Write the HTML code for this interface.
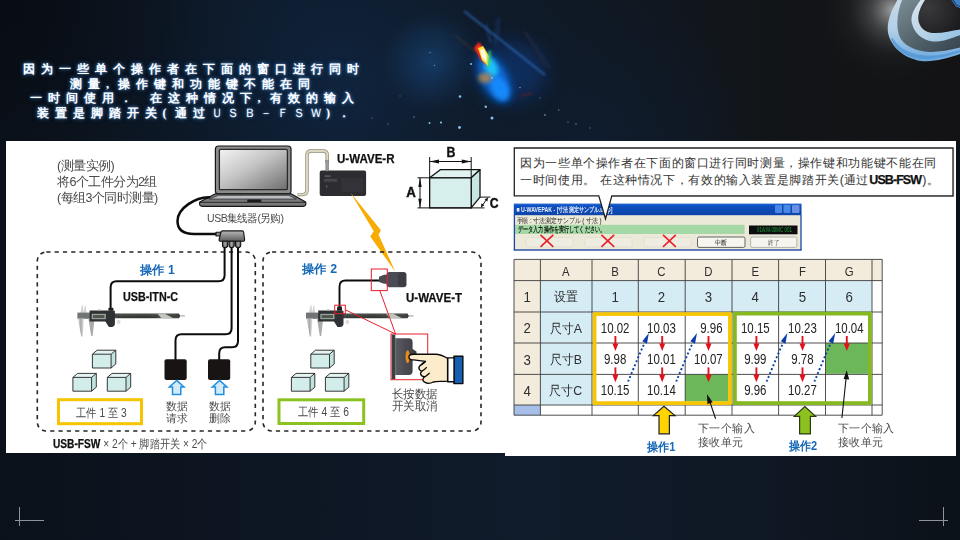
<!DOCTYPE html>
<html lang="zh">
<head>
<meta charset="utf-8">
<title>USB-FSW</title>
<style>
html,body{margin:0;padding:0;}
body{width:960px;height:540px;overflow:hidden;background:#0c141e;font-family:"Liberation Sans",sans-serif;}
#stage{position:relative;width:960px;height:540px;overflow:hidden;background:#0c141e;}
#stage svg{position:absolute;left:0;top:0;}
.t{position:absolute;white-space:nowrap;line-height:1;transform-origin:0 50%;font-size:12px;}
.title{font-family:"Liberation Serif",serif;font-weight:bold;color:#fff;font-size:12px;letter-spacing:6px;
 text-shadow:0 0 2px rgba(110,170,230,.8),0 0 4px rgba(70,140,215,.55),0 0 6px rgba(50,110,190,.3);}
.title .hw{display:inline-block;width:12px;text-align:left;letter-spacing:0;}
.title .fw{letter-spacing:4.500px;font-weight:normal;}
.g{color:#4a4a4a;}
.cc{text-align:center;transform-origin:50% 50%;color:#2e2e2e;}
.nm{transform:scaleX(.83);color:#222;}
.hd{transform:scaleX(.92);}
.k{color:#111;font-weight:bold;-webkit-text-stroke:.25px #111;}
.b{color:#1668b8;font-weight:bold;}
</style>
</head>
<body>
<div id="stage">
<svg width="960" height="540" viewBox="0 0 960 540">
<defs>
<linearGradient id="bgH" x1="0" x2="1" y1="0" y2="0">
 <stop offset="0" stop-color="#0b121b"/><stop offset=".3" stop-color="#0e1c2e"/><stop offset=".5" stop-color="#0f1b2b"/><stop offset=".63" stop-color="#101822"/><stop offset=".8" stop-color="#121518"/><stop offset="1" stop-color="#131315"/>
</linearGradient>
<radialGradient id="neb3" cx="590" cy="150" r="170" gradientUnits="userSpaceOnUse">
 <stop offset="0" stop-color="#0f1d30" stop-opacity=".9"/><stop offset=".6" stop-color="#0f1b2b" stop-opacity=".5"/><stop offset="1" stop-color="#0f1b2b" stop-opacity="0"/>
</radialGradient>
<filter id="b10" x="-80%" y="-80%" width="260%" height="260%"><feGaussianBlur stdDeviation="10"/></filter>
<linearGradient id="bgB" x1="0" x2="1" y1="0" y2="0">
 <stop offset="0" stop-color="#0a111a"/><stop offset=".55" stop-color="#101b2b"/><stop offset=".8" stop-color="#0f1824"/><stop offset="1" stop-color="#0b1118"/>
</linearGradient>
<radialGradient id="neb1" cx="345" cy="85" r="190" gradientUnits="userSpaceOnUse">
 <stop offset="0" stop-color="#14335a" stop-opacity=".36"/><stop offset=".5" stop-color="#102a48" stop-opacity=".18"/><stop offset="1" stop-color="#0e1d30" stop-opacity="0"/>
</radialGradient>
<radialGradient id="neb2" cx="432" cy="62" r="52" gradientUnits="userSpaceOnUse">
 <stop offset="0" stop-color="#1a4c85" stop-opacity=".6"/><stop offset=".6" stop-color="#153f70" stop-opacity=".3"/><stop offset="1" stop-color="#12304f" stop-opacity="0"/>
</radialGradient>
<radialGradient id="ringglow" cx="893" cy="10" r="75" gradientUnits="userSpaceOnUse">
 <stop offset="0" stop-color="#ffffff" stop-opacity=".6"/><stop offset=".3" stop-color="#aaa" stop-opacity=".3"/><stop offset=".6" stop-color="#666" stop-opacity=".1"/><stop offset="1" stop-color="#222" stop-opacity="0"/>
</radialGradient>
<radialGradient id="tl" cx="0" cy="0" r="200" gradientUnits="userSpaceOnUse">
 <stop offset="0" stop-color="#080c12" stop-opacity=".9"/><stop offset="1" stop-color="#080c12" stop-opacity="0"/>
</radialGradient>
<filter id="b1" x="-50%" y="-50%" width="200%" height="200%"><feGaussianBlur stdDeviation="1"/></filter>
<filter id="b2" x="-50%" y="-50%" width="200%" height="200%"><feGaussianBlur stdDeviation="2.2"/></filter>
<filter id="b4" x="-50%" y="-50%" width="200%" height="200%"><feGaussianBlur stdDeviation="4.5"/></filter>
<filter id="b05" x="-50%" y="-50%" width="200%" height="200%"><feGaussianBlur stdDeviation=".6"/></filter>
<linearGradient id="ringO" x1="0" x2="0" y1="0" y2="1"><stop offset="0" stop-color="#c9d9e6"/><stop offset=".5" stop-color="#b4d0e8"/><stop offset="1" stop-color="#6aa8de"/></linearGradient>
<linearGradient id="ringG" x1="0" x2="1" y1="0" y2="1"><stop offset="0" stop-color="#7d8f98"/><stop offset=".5" stop-color="#55656e"/><stop offset="1" stop-color="#34424c"/></linearGradient>
<linearGradient id="ringI" x1="0" x2="1" y1="0" y2="1"><stop offset="0" stop-color="#dde8f0"/><stop offset=".5" stop-color="#b9d4e8"/><stop offset="1" stop-color="#8fbfe4"/></linearGradient>
<radialGradient id="ringD" cx="520" cy="60" r="330" gradientUnits="userSpaceOnUse"><stop offset="0" stop-color="#3a3a3c"/><stop offset="1" stop-color="#161618"/></radialGradient>
</defs>
<rect width="960" height="145" fill="url(#bgH)"/>
<rect y="145" width="960" height="395" fill="url(#bgB)"/>
<rect width="960" height="145" fill="url(#neb1)"/>
<rect width="960" height="145" fill="url(#neb2)"/>
<rect width="960" height="145" fill="url(#neb3)"/>
<ellipse cx="512" cy="72" rx="34" ry="30" fill="#0a4aa8" opacity=".4" filter="url(#b10)"/>
<rect width="300" height="145" fill="url(#tl)"/>
<rect x="790" width="170" height="110" fill="url(#ringglow)"/>
<!-- flare -->
<g>
 <ellipse cx="494" cy="78" rx="13" ry="27" transform="rotate(-27 494 78)" fill="#0a63d0" filter="url(#b4)" opacity=".95"/>
 <ellipse cx="496" cy="80" rx="8" ry="19" transform="rotate(-27 496 80)" fill="#1278ee" filter="url(#b4)" opacity=".85"/>
 <ellipse cx="500" cy="89" rx="8" ry="12" transform="rotate(-27 500 89)" fill="#168cff" filter="url(#b2)" opacity=".9"/>
 <ellipse cx="491" cy="67" rx="6" ry="10" transform="rotate(-25 491 67)" fill="#1fc2f5" filter="url(#b2)"/>
 <ellipse cx="485" cy="78" rx="7" ry="5" fill="#c98a3a" filter="url(#b2)" opacity=".75"/>
 <path d="M474 48 L479 42 L486 52 L488 66 L481 60 Z" fill="#ff2a1a" filter="url(#b1)"/>
 <path d="M478 48 L483 46 L489 56 L488 66 L482 60 Z" fill="#ffe23a" filter="url(#b05)"/>
 <path d="M480 50 L483.500 49 L487 56 L486.500 62 L482 57 Z" fill="#fffbe0" filter="url(#b05)"/>
 <path d="M488 52 L491 50 L491 63 L487 68 Z" fill="#3adf6a" filter="url(#b1)" opacity=".7"/>
 <path d="M464 11 L545 75" stroke="#2d6dc0" stroke-width="2" filter="url(#b1)" opacity=".7"/>
 <path d="M486 24 L491 43" stroke="#2d5fb0" stroke-width="2.5" filter="url(#b1)" opacity=".35"/>
 <path d="M499 18 L495 46" stroke="#244f9a" stroke-width="3" filter="url(#b2)" opacity=".45"/>
 <path d="M526 32 L550 68" stroke="#233f7a" stroke-width="2" filter="url(#b1)" opacity=".4"/>
 <path d="M523 30 L547 68" stroke="#5a2a22" stroke-width="1.2" filter="url(#b1)" opacity=".5"/>
 <path d="M455 35 L475 52" stroke="#6a4a2a" stroke-width="1.5" filter="url(#b1)" opacity=".4"/>
 <path d="M521 96 L532 93" stroke="#8a1a1a" stroke-width="1.5" filter="url(#b1)" opacity=".6"/>
</g>
<!-- stars -->
<g fill="#7fc4f2" filter="url(#b05)">
 <circle cx="460" cy="96.500" r="1.3"/><circle cx="485.800" cy="106.800" r="1.2"/><circle cx="492" cy="118" r="1.5"/>
 <circle cx="459.500" cy="127.500" r="1.4"/><circle cx="441" cy="122.500" r="1.1"/><circle cx="429.500" cy="123" r="1"/>
 <circle cx="471" cy="64" r="1"/><circle cx="492" cy="78" r=".9"/><circle cx="520" cy="87.500" r=".8" opacity=".7"/>
 <circle cx="545" cy="115" r=".9" opacity=".6"/><circle cx="558.800" cy="110" r=".8" opacity=".6"/><circle cx="576" cy="124" r=".8" opacity=".6"/>
 <circle cx="430" cy="52.500" r=".7" opacity=".7"/><circle cx="434.500" cy="65.500" r=".7" opacity=".6"/><circle cx="414" cy="117" r=".8" opacity=".6"/>
 <circle cx="568" cy="122" r=".7" opacity=".5"/><circle cx="590" cy="128" r=".7" opacity=".5"/><circle cx="540" cy="98" r=".7" opacity=".5"/>
 <circle cx="372" cy="118" r=".7" opacity=".5"/><circle cx="388" cy="124" r=".7" opacity=".5"/><circle cx="400" cy="96" r=".7" opacity=".4"/>
</g>
<!-- ring -->
<g transform="translate(860,0) scale(0.1297)">
 <path d="M300,-20 C240,80 200,180 218,260 C240,360 340,450 470,470 C580,480 680,445 790,410 L790,-20 Z" fill="url(#ringO)"/>
 <path d="M240,300 C270,380 350,440 470,455 C580,465 680,430 790,398 L790,380 C690,410 590,440 470,425 C360,410 290,360 250,290 Z" fill="#4f94d6" opacity=".75"/>
 <path d="M332,-20 C290,80 275,180 300,270 C330,350 420,395 540,400 C630,400 700,385 790,362 L790,-20 Z" fill="url(#ringG)"/>
 <path d="M482,-20 C420,60 385,120 400,180 C420,260 480,310 560,320 C640,325 710,290 790,265 L790,-20 Z" fill="url(#ringI)"/>
 <path d="M515,-20 C470,40 440,110 452,165 C470,230 520,255 580,255 C650,255 720,235 790,225 L790,-20 Z" fill="url(#ringD)"/>
 <path d="M690,-20 L790,-20 L790,70 L740,50 Z" fill="#3f7fc4"/>
 <path d="M700,-20 L745,40 L790,58" fill="none" stroke="#1c3a5e" stroke-width="8"/>
</g>
<!-- corner marks -->
<g stroke="#8f949c" stroke-width="1" shape-rendering="crispEdges">
 <path d="M19.500 507 V526 M15 520.500 H44"/>
 <path d="M943.500 507 V526 M919 520.500 H948"/>
</g>
</svg>
<div class="t title" style="left:22.500px;top:63px;">因为一些单个操作者在下面的窗口进行同时</div>
<div class="t title" style="left:70px;top:77.500px;">测量<span class="hw">,</span>操作键和功能键不能在同</div>
<div class="t title" style="left:29.500px;top:92px;">一时间使用．<span class="hw"> </span>在这种情况下<span class="hw">,</span>有效的输入</div>
<div class="t title" style="left:36.500px;top:107px;">装置是脚踏开关<span class="hw">(</span>通过<span class="fw">ＵＳＢ－ＦＳＷ</span><span class="hw">)</span>．</div>
<div style="position:absolute;left:6px;top:140.700px;width:499px;height:312.400px;background:#fff;"></div>
<div style="position:absolute;left:504.800px;top:140.600px;width:451.300px;height:315.500px;background:#fff;"></div>
<svg width="960" height="540" viewBox="0 0 960 540">
<defs>
<linearGradient id="scr" x1="0" y1="0" x2="1" y2="1"><stop offset="0" stop-color="#f4f4f4"/><stop offset=".45" stop-color="#c4c4c4"/><stop offset="1" stop-color="#6e6e6e"/></linearGradient>
<linearGradient id="hubg" x1="0" y1="0" x2="0" y2="1"><stop offset="0" stop-color="#b8b8b8"/><stop offset="1" stop-color="#5c5c5c"/></linearGradient>
<linearGradient id="plug" x1="0" y1="0" x2="1" y2="0"><stop offset="0" stop-color="#555"/><stop offset=".5" stop-color="#a5a5a5"/><stop offset="1" stop-color="#555"/></linearGradient>
<linearGradient id="beam" x1="0" y1="0" x2="1" y2="0"><stop offset="0" stop-color="#4a4d4c"/><stop offset=".6" stop-color="#3d403d"/><stop offset=".8" stop-color="#4a4d48"/><stop offset="1" stop-color="#3c3f3c"/></linearGradient>
<linearGradient id="jaw" x1="0" y1="0" x2="1" y2="0"><stop offset="0" stop-color="#dcdcdc"/><stop offset=".5" stop-color="#a8aaa8"/><stop offset="1" stop-color="#e6e6e6"/></linearGradient>
<linearGradient id="btn" x1="0" y1="0" x2="1" y2="0"><stop offset="0" stop-color="#5a5c62"/><stop offset=".5" stop-color="#4a4b52"/><stop offset="1" stop-color="#3c3c40"/></linearGradient>
<filter id="lb" x="-20%" y="-20%" width="140%" height="140%"><feGaussianBlur stdDeviation=".45"/></filter>
<filter id="lb2" x="-30%" y="-30%" width="160%" height="160%"><feGaussianBlur stdDeviation="1"/></filter>
<g id="cube">
 <path d="M0 4 L18.700 4 L18.700 17.800 L0 17.800 Z" fill="#d3edeb"/>
 <path d="M0 4 L4.700 0 L23.400 0 L18.700 4 Z" fill="#e3f4f2"/>
 <path d="M18.700 4 L23.400 0 L23.400 13.800 L18.700 17.800 Z" fill="#c2e3e0"/>
 <path d="M0 4 L18.700 4 L18.700 17.800 L0 17.800 Z M0 4 L4.700 0 L23.400 0 L18.700 4 M23.400 0 L23.400 13.800 L18.700 17.800" fill="none" stroke="#222" stroke-width=".9" stroke-linejoin="round"/>
</g>
<g id="caliper">
 <path d="M2.800 0.500 L4.600 -7.500 L5.400 -7.500 L6.400 0.500 Z M6 0.500 L7.600 -7 L8.300 -7 L9.200 0.500 Z" fill="#d4d6d4"/>
 <path d="M0 0 L14 0 L14 6.200 L0 6.200 Z" fill="#717574"/>
 <path d="M14 0.800 L101.500 0.800 L103 3.300 L101.500 5.600 L14 5.600 Z" fill="url(#beam)"/>
 <path d="M80 0.800 L87 0.800 L96 5.600 L84 5.600 Z" fill="#c2c5bd"/>
 <rect x="103" y="2.800" width="4.500" height="1" fill="#999"/>
 <path d="M40 1.600 H100" stroke="#9a9d98" stroke-width=".7" stroke-dasharray=".8 1.700" opacity=".7"/>
 <path d="M40 4.600 H80" stroke="#22241f" stroke-width="1" opacity=".6"/>
 <path d="M0.500 6 L6.500 6 L5.200 23.800 L3.800 23.800 Z" fill="url(#jaw)"/>
 <path d="M11 6 L17.200 6 L15.200 23.500 L13.800 23.500 Z" fill="#a9acaa"/>
 <path d="M12.200 -2 L36.500 -2 Q37.500 -2 37.500 -1 L37.500 11 Q37.500 14.400 34 14.400 L31.500 14.400 L28 9 L12.200 9 Z" fill="#2e3035"/>
 <rect x="14.300" y="1.200" width="14.200" height="5.400" fill="#9aa09a"/>
 <rect x="15.600" y="2.500" width="11.400" height="2.900" fill="#4e554f"/>
 <rect x="31" y="-4.800" width="5" height="3" rx=".8" fill="#1b1b1b"/>
 <circle cx="41.300" cy="9.300" r="1.900" fill="#e2d9dc"/>
 <circle cx="22" cy="-2.600" r="1.100" fill="#b9b9b9"/>
</g>
</defs>

<!-- U-WAVE-R -->
<rect x="319.700" y="170.400" width="46.400" height="25.700" rx="2" fill="#2c2c31"/>
<rect x="324" y="178.800" width="13" height="3" fill="#45454c"/>
<rect x="324.500" y="175.500" width="6" height="1.200" fill="#6a6a72"/>
<rect x="341" y="178" width="22" height="14" fill="#323238"/>
<rect x="326" y="185" width="1.400" height="3" fill="#50505a"/>

<!-- lightning bolt -->
<path d="M350.400 192.600 L380.900 230.300 L378.500 234.600 L395.200 271.600 L370.300 236.600 L373.800 231.300 Z" fill="#f8ab00"/>

<!-- dashed group boxes -->
<g fill="none" stroke="#262626" stroke-width="1.600" stroke-dasharray="4.200 4.100">
 <rect x="37.300" y="252" width="218" height="179" rx="9"/>
 <rect x="263" y="252" width="218" height="179" rx="9"/>
</g>


<!-- A/B/C box -->
<g stroke="#111" stroke-width="1.300" stroke-linejoin="round" fill="none">
 <path d="M429.650 177.800 L440.300 169.650 L480 169.650 L471.200 177.800 Z" fill="#dff2f0"/>
 <path d="M471.200 177.800 L480 169.650 L480 197.100 L471.200 207.900 Z" fill="#c7e6e3"/>
 <rect x="429.650" y="177.800" width="41.550" height="30.100" fill="#d6eeec"/>
</g>
<g stroke="#111" stroke-width="1" fill="none">
 <path d="M429.650 157 V177.800 M471.200 157 V177.800 M429.650 161.500 H471.200"/>
 <path d="M417.500 177.800 H429.650 M417.500 207.900 H484.500 M420 177.800 V207.900"/>
 <path d="M480 197.100 H490.400 M481.600 206.400 L487.300 198.500"/>
</g>
<g fill="#111" stroke="none">
 <path d="M429.650 161.500 L439 159.600 L439 163.400 Z M471.200 161.500 L461.800 159.600 L461.800 163.400 Z"/>
 <path d="M420 177.800 L418.300 187 L421.700 187 Z M420 207.900 L418.300 198.700 L421.700 198.700 Z"/>
 <path d="M480.800 207.500 L481.500 203.300 L484.300 205.300 Z M488 197.500 L487.400 201.600 L484.600 199.600 Z"/>
</g>

<!-- laptop -->
<g stroke="#151515" stroke-width="1.200" stroke-linejoin="round">
 <rect x="215.400" y="146" width="75.600" height="48" rx="3.200" fill="#8c8c8c"/>
 <rect x="219.400" y="149.400" width="68" height="40.200" rx="1.200" fill="url(#scr)" stroke="#2a2a2a" stroke-width="1.300"/>
 <path d="M215.400 193.800 L291 193.800 L305.600 202 Q306.600 206.400 303 206.400 L202.400 206.400 Q198.800 206.400 199.800 202 Z" fill="#7a7a7a"/>
 <path d="M218.500 195.300 L288.500 195.300 L296.300 199 L209.500 199 Z" fill="#b9bcc0" stroke-width=".6"/>
 <path d="M200 202.300 L305.500 202.300" stroke-width=".8"/>
 <rect x="247.300" y="199.600" width="14" height="2.400" rx=".6" fill="#1a1a1a" stroke="none"/>
</g>

<!-- beige cable laptop → U-WAVE-R -->
<path d="M297.500 194.600 L303 194.600 Q307 194.600 307 190.600 L307 155 Q307 151 311 151 L323.200 151 Q327.200 151 327.200 155 L327.200 163" fill="none" stroke="#8e8974" stroke-width="3.400"/>
<path d="M297.500 194.600 L303 194.600 Q307 194.600 307 190.600 L307 155 Q307 151 311 151 L323.200 151 Q327.200 151 327.200 155 L327.200 163" fill="none" stroke="#dcd7c2" stroke-width="2"/>
<rect x="325.800" y="160.500" width="2.900" height="10.500" fill="#9a9a9a" stroke="#666" stroke-width=".4"/>

<!-- black cable laptop → hub -->
<path d="M209 197.200 C196 197 177.500 208 177.500 221 C177.500 230 184 234 194 234 L217 234" fill="none" stroke="#0c0c0c" stroke-width="2.500" stroke-linecap="round"/>
<!-- hub -->
<g stroke="#141414" stroke-width="1.100" stroke-linejoin="round">
 <rect x="216" y="232.200" width="5" height="3.800" fill="#8a8a8a"/>
 <path d="M222.400 230.900 L242.200 230.900 Q243.400 230.900 243.600 232 L244.600 239.500 Q244.700 241.200 243 241.200 L220.600 241.200 Q218.900 241.200 219.100 239.500 L221 232 Q221.300 230.900 222.400 230.900 Z" fill="url(#hubg)"/>
 <path d="M222.500 241.200 L227.700 241.200 L227.700 245 Q227.700 247.600 225.100 247.600 Q222.500 247.600 222.500 245 Z" fill="url(#plug)"/>
 <path d="M229 241.200 L234.200 241.200 L234.200 245 Q234.200 247.600 231.600 247.600 Q229 247.600 229 245 Z" fill="url(#plug)"/>
 <path d="M235.500 241.200 L240.700 241.200 L240.700 245 Q240.700 247.600 238.100 247.600 Q235.500 247.600 235.500 245 Z" fill="url(#plug)"/>
</g>
<!-- hub cables -->
<g fill="none" stroke="#0c0c0c" stroke-width="2">
 <path d="M224.600 247.500 L224.600 275.300 Q224.600 281.300 218.600 281.300 L116.600 281.300 Q110.600 281.300 110.600 287.300 L110.600 308"/>
 <path d="M231.600 247.500 L231.600 328.200 Q231.600 334.200 225.600 334.200 L181.500 334.200 Q175.500 334.200 175.500 340.200 L175.500 360"/>
 <path d="M238 247.500 L238 341.200 Q238 347.200 232 347.200 L225.200 347.200 Q219.200 347.200 219.200 353.200 L219.200 360"/>
</g>

<!-- calipers -->
<g filter="url(#lb)"><use href="#caliper" x="77.400" y="312.600"/></g>
<g filter="url(#lb)"><use href="#caliper" x="306" y="312.600"/></g>

<!-- work pieces -->
<use href="#cube" x="92.400" y="350.200"/>
<use href="#cube" x="72.900" y="373.400"/>
<use href="#cube" x="107.300" y="373.400"/>
<use href="#cube" x="310.800" y="350.200"/>
<use href="#cube" x="291.400" y="373.400"/>
<use href="#cube" x="325.400" y="373.400"/>

<!-- yellow / green label frames -->
<rect x="58.500" y="399.700" width="83" height="24" fill="#fff" stroke="#f6c500" stroke-width="3"/>
<rect x="279" y="399.800" width="84.700" height="23.700" fill="#fff" stroke="#8bc21f" stroke-width="3"/>

<!-- foot switches -->
<rect x="164.500" y="359.300" width="22.200" height="20.700" rx="2" fill="#181414"/>
<rect x="208" y="359.300" width="22.200" height="20.700" rx="2" fill="#181414"/>
<g fill="#d3ebf7" stroke="#1f8fe0" stroke-width="1.500" stroke-linejoin="miter">
 <path d="M176.7 380.400 L184.0 387 L180.8 387 L180.8 394.500 L172.5 394.500 L172.5 387 L169.3 387 Z"/>
 <path d="M219.6 380.400 L226.9 387 L223.8 387 L223.8 394.500 L215.4 394.500 L215.4 387 L212.3 387 Z"/>
</g>

<!-- U-WAVE-T -->
<path d="M339.500 307 L339.500 286.500 Q339.500 280.500 345.500 280.500 L380 280.500" fill="none" stroke="#0c0c0c" stroke-width="1.900"/>
<g filter="url(#lb)">
 <path d="M379 276.800 L384 274.800 L387 274.800 L387 283.800 L384 283.800 L379 282 Z" fill="#4a4b52"/>
 <rect x="386.500" y="272" width="20" height="15.200" rx="3" fill="#4b4c54"/>
 <rect x="398" y="272.500" width="8" height="14.200" rx="2.500" fill="#3d3e45"/>
 <rect x="337.300" y="306.500" width="4.600" height="3.200" fill="#1b1b1b"/>
</g>
<!-- red call-outs -->
<g fill="none" stroke="#e8202a" stroke-width="1">
 <rect x="371.300" y="269" width="16" height="21.600"/>
 <rect x="334.700" y="305.200" width="10.600" height="8.500"/>
 <path d="M379.800 290.600 L395.600 334 M345.300 309.800 L395.600 334"/>
 <rect x="391" y="334" width="36.700" height="45.700"/>
</g>
<!-- push button unit -->
<g filter="url(#lb)">
 <rect x="391.700" y="334.700" width="3.600" height="44.400" fill="#3a3f40"/>
 <path d="M395.200 338.300 L408.600 338.300 Q412.600 338.300 412.600 342.300 L412.600 349 L416.500 351.500 L416.500 356 L412.600 358 L412.600 371.100 Q412.600 375.100 408.600 375.100 L395.200 375.100 Z" fill="url(#btn)"/>
 <ellipse cx="407.600" cy="356.700" rx="2.100" ry="6.500" fill="#e88b1e"/>
</g>
<!-- hand -->
<g transform="translate(385,328) scale(0.11486)" stroke="#0a0a0a" stroke-width="12" stroke-linejoin="round" stroke-linecap="round">
 <rect x="600" y="246" width="78" height="238" fill="#1560b4"/>
 <rect x="545" y="260" width="56" height="208" fill="#fff"/>
 <path d="M208 252 C208 236 225 228 250 229 L440 229 C490 229 520 250 545 265 L545 462 C500 468 450 462 420 470 C400 482 370 486 345 472 C325 460 325 440 345 425 C310 420 300 395 318 378 C290 365 285 335 318 318 C330 305 345 295 350 290 L250 278 C225 278 208 270 208 252 Z" fill="#fdeccb"/>
 <path d="M345 425 C360 418 372 406 385 394 M318 378 C335 370 348 358 360 345 M318 318 C332 312 344 302 352 292" fill="none"/>
</g>
</svg>
<svg width="960" height="540" viewBox="0 0 960 540">
<defs>
<linearGradient id="tb" x1="0" y1="0" x2="0" y2="1"><stop offset="0" stop-color="#2a6ad8"/><stop offset=".2" stop-color="#0c50c0"/><stop offset="1" stop-color="#0a44a8"/></linearGradient>
<filter id="rb" x="-5%" y="-20%" width="110%" height="140%"><feGaussianBlur stdDeviation=".5"/></filter>
</defs>
<!-- window -->
<g filter="url(#rb)">
<rect x="513.800" y="203.600" width="287.700" height="46.900" fill="#ece9d8"/>
<rect x="513.800" y="203.600" width="287.700" height="11.600" fill="url(#tb)"/>
<rect x="514.600" y="224.800" width="230" height="9.200" fill="#a6d7a6"/>
<rect x="749" y="225.500" width="48.500" height="8.800" fill="#0a0f0a"/>
<rect x="697.500" y="237" width="47.500" height="10.400" rx="1.500" fill="#f6f5ee" stroke="#555" stroke-width=".9"/>
<rect x="750.600" y="237" width="46.300" height="10.400" rx="1.500" fill="#f6f5ee" stroke="#999" stroke-width=".7"/>
<rect x="526" y="237.500" width="47" height="9.500" rx="1.500" fill="#efede2" stroke="#dcd9c8" stroke-width=".6"/>
<rect x="585" y="237.500" width="47" height="9.500" rx="1.500" fill="#efede2" stroke="#dcd9c8" stroke-width=".6"/>
<rect x="644" y="237.500" width="47" height="9.500" rx="1.500" fill="#efede2" stroke="#dcd9c8" stroke-width=".6"/>
<path d="M513.800 250 H801.500" stroke="#2f55b0" stroke-width="1.400"/>
<path d="M514.400 215 V250.300 M801 215 V250.300" stroke="#1f4aa8" stroke-width="1.300"/>
<rect x="775" y="205" width="7" height="8" rx="1" fill="#4a86e8"/><rect x="783.500" y="205" width="7" height="8" rx="1" fill="#4a86e8"/><rect x="792" y="205" width="7.500" height="8" rx="1" fill="#6a8fe0"/>
<g font-family="'Liberation Sans',sans-serif" filter="url(#rb)">
<text x="516.500" y="212.300" font-size="7.200" fill="#e8eefc" font-weight="bold" textLength="96" lengthAdjust="spacingAndGlyphs">■ U-WAVEPAK - [寸法測定サンプル.uwp]</text>
<text x="516.500" y="222.700" font-size="7.400" fill="#222" textLength="85" lengthAdjust="spacingAndGlyphs">手順 : 寸法測定サンプル ( 寸法 )</text>
<text x="518" y="232.200" font-size="7.600" fill="#0f1f0f" font-weight="bold" textLength="87" lengthAdjust="spacingAndGlyphs">データ入力操作を実行してください。</text>
<text x="757" y="232.300" font-size="6.800" fill="#22a040" textLength="35" lengthAdjust="spacingAndGlyphs">01A:M-00MC 001</text>
<text x="715" y="245" font-size="7" fill="#222" textLength="12" lengthAdjust="spacingAndGlyphs">中断</text>
<text x="768" y="245" font-size="7" fill="#555" textLength="11" lengthAdjust="spacingAndGlyphs">終了</text>
</g>
</g>
<!-- callout -->
<path d="M514.300 148 H953 V195.800 H611.800 L605.500 218.800 L598.800 195.800 H514.300 Z" fill="#fff" stroke="#222" stroke-width="1.300" stroke-linejoin="miter"/>
<path d="M953.600 149 V196.500 H612" fill="none" stroke="#555" stroke-width="1" opacity=".7"/>
<path d="M540.5 234.800 L553.3 246.800 M553.3 234.800 L540.5 246.800" stroke="#e8202a" stroke-width="1.600" fill="none"/>
<path d="M601.4 234.800 L614.2 246.800 M614.2 234.800 L601.4 246.800" stroke="#e8202a" stroke-width="1.600" fill="none"/>
<path d="M663.0 234.800 L675.8 246.800 M675.8 234.800 L663.0 246.800" stroke="#e8202a" stroke-width="1.600" fill="none"/>
<!-- sheet -->
<rect x="514.00" y="259.40" width="368.20" height="21.20" fill="#f3ecdd"/>
<rect x="514.00" y="280.60" width="26.40" height="124.40" fill="#f3ecdd"/>
<rect x="514.00" y="405.00" width="26.40" height="10.20" fill="#a7bfe8"/>
<rect x="540.40" y="280.60" width="51.60" height="124.40" fill="#d6ecf5"/>
<rect x="592.00" y="280.60" width="280.00" height="31.40" fill="#d6ecf5"/>
<rect x="685.20" y="374.40" width="43.30" height="27.10" fill="#6bb75a"/>
<rect x="825.50" y="343.00" width="43.00" height="30.80" fill="#6bb75a"/>
<path d="M514.00 259.40 V415.20 M540.40 259.40 V415.20 M592.00 259.40 V415.20 M638.30 259.40 V415.20 M685.20 259.40 V415.20 M732.00 259.40 V415.20 M778.60 259.40 V415.20 M825.50 259.40 V415.20 M872.00 259.40 V415.20 M882.20 259.40 V415.20 M514.00 259.40 H882.20 M514.00 280.60 H882.20 M514.00 312.00 H882.20 M514.00 343.00 H882.20 M514.00 374.40 H882.20 M514.00 405.00 H882.20 M514.00 415.20 H882.20 " stroke="#3c3c3c" stroke-width=".9" fill="none"/>
<rect x="594.600" y="314.100" width="135.300" height="89" fill="none" stroke="#f7c600" stroke-width="3.700"/>
<rect x="734.900" y="313.600" width="135" height="89.500" fill="none" stroke="#86b920" stroke-width="3.800"/>
<path d="M615.4 336.0 V346.0" stroke="#e3101c" stroke-width="1.900"/><path d="M615.4 351.0 L612.4 343.4 L618.4 343.4 Z" fill="#e3101c"/>
<path d="M615.4 367.4 V377.3" stroke="#e3101c" stroke-width="1.900"/><path d="M615.4 382.3 L612.4 374.7 L618.4 374.7 Z" fill="#e3101c"/>
<path d="M662.2 336.0 V346.0" stroke="#e3101c" stroke-width="1.900"/><path d="M662.2 351.0 L659.2 343.4 L665.2 343.4 Z" fill="#e3101c"/>
<path d="M662.2 367.4 V377.3" stroke="#e3101c" stroke-width="1.900"/><path d="M662.2 382.3 L659.2 374.7 L665.2 374.7 Z" fill="#e3101c"/>
<path d="M708.5 336.0 V346.0" stroke="#e3101c" stroke-width="1.900"/><path d="M708.5 351.0 L705.5 343.4 L711.5 343.4 Z" fill="#e3101c"/>
<path d="M708.5 367.4 V377.3" stroke="#e3101c" stroke-width="1.900"/><path d="M708.5 382.3 L705.5 374.7 L711.5 374.7 Z" fill="#e3101c"/>
<path d="M756.4 336.0 V346.0" stroke="#e3101c" stroke-width="1.900"/><path d="M756.4 351.0 L753.4 343.4 L759.4 343.4 Z" fill="#e3101c"/>
<path d="M756.4 367.4 V377.3" stroke="#e3101c" stroke-width="1.900"/><path d="M756.4 382.3 L753.4 374.7 L759.4 374.7 Z" fill="#e3101c"/>
<path d="M802.5 336.0 V346.0" stroke="#e3101c" stroke-width="1.900"/><path d="M802.5 351.0 L799.5 343.4 L805.5 343.4 Z" fill="#e3101c"/>
<path d="M802.5 367.4 V377.3" stroke="#e3101c" stroke-width="1.900"/><path d="M802.5 382.3 L799.5 374.7 L805.5 374.7 Z" fill="#e3101c"/>
<path d="M846.8 336.0 V346.0" stroke="#e3101c" stroke-width="1.900"/><path d="M846.8 351.0 L843.8 343.4 L849.8 343.4 Z" fill="#e3101c"/>
<path d="M628.1 381.500 C633.4 369 639.4 354 644.6 343" fill="none" stroke="#0b3ea8" stroke-width="1.900" stroke-dasharray="1.900 2.300"/>
<path d="M648.9 333.100 L646.9 343.700 L642.3 341.300 Z" fill="#0b3ea8"/>
<path d="M676.2 381.500 C681.5 369 687.5 354 692.7 343" fill="none" stroke="#0b3ea8" stroke-width="1.900" stroke-dasharray="1.900 2.300"/>
<path d="M697.0 333.100 L695.0 343.700 L690.4 341.300 Z" fill="#0b3ea8"/>
<path d="M766.6 381.500 C771.9 369 777.9 354 783.1 343" fill="none" stroke="#0b3ea8" stroke-width="1.900" stroke-dasharray="1.900 2.300"/>
<path d="M787.4 333.100 L785.4 343.700 L780.8 341.300 Z" fill="#0b3ea8"/>
<path d="M814.4 381.500 C819.7 369 825.7 354 830.9 343" fill="none" stroke="#0b3ea8" stroke-width="1.900" stroke-dasharray="1.900 2.300"/>
<path d="M835.2 333.100 L833.2 343.700 L828.6 341.300 Z" fill="#0b3ea8"/>
<path d="M715.600 418.700 L709.600 401" stroke="#111" stroke-width="1.100"/><path d="M707 394.300 L712.700 402.300 L707.400 403.900 Z" fill="#111"/>
<path d="M841.900 418 L846.100 378" stroke="#111" stroke-width="1.100"/><path d="M846.700 370.200 L849.200 379.500 L843.600 378.900 Z" fill="#111"/>
<path d="M663.900 406.200 L675 415.600 L669.400 415.600 L669.400 433.800 L659 433.800 L659 415.600 L653.400 415.600 Z" fill="#ffd400" stroke="#222" stroke-width="1.200" stroke-linejoin="miter"/>
<path d="M804.800 406.500 L815.600 416.400 L810.400 416.400 L810.400 433.900 L799.600 433.900 L799.600 416.400 L794.300 416.400 Z" fill="#8cc21f" stroke="#2c3a10" stroke-width="1.200" stroke-linejoin="miter"/>
</svg>
<!-- left panel labels -->
<div class="t g" id="l1" style="left:56.500px;top:159.500px;font-size:12.500px;letter-spacing:-.6px;transform:scaleX(1.006);">(测量实例)</div>
<div class="t g" id="l2" style="left:56.500px;top:176px;font-size:12.500px;letter-spacing:-.6px;transform:scaleX(1.004);">将6个工件分为2组</div>
<div class="t g" id="l3" style="left:56.500px;top:192px;font-size:12.500px;letter-spacing:-.6px;transform:scaleX(1.003);">(每组3个同时测量)</div>
<div class="t g" id="hubl" style="left:207px;top:212.500px;font-size:11px;letter-spacing:-.5px;transform:scaleX(0.958);">USB集线器(另购)</div>
<div class="t k" id="uwr" style="left:337px;top:151.500px;font-size:13px;transform:scaleX(0.889);">U-WAVE-R</div>
<div class="t k" id="la" style="-webkit-text-stroke:.4px #111;left:406.3px;top:184.9px;font-size:14px;width:10.11px;text-align:center;transform-origin:50% 50%;transform:scaleX(0.95);">A</div>
<div class="t k" id="lb_" style="-webkit-text-stroke:.4px #111;left:446.0px;top:144.7px;font-size:14px;width:10.11px;text-align:center;transform-origin:50% 50%;transform:scaleX(0.88);">B</div>
<div class="t k" id="lc" style="-webkit-text-stroke:.4px #111;left:489.4px;top:196.0px;font-size:14.5px;width:10.47px;text-align:center;transform-origin:50% 50%;transform:scaleX(0.84);">C</div>
<div class="t b" id="op1" style="left:140.300px;top:263.500px;font-size:12px;transform:scaleX(1.02);">操作 1</div>
<div class="t b" id="op2" style="left:302.300px;top:263.300px;font-size:12px;transform:scaleX(1.029);">操作 2</div>
<div class="t k" id="itn" style="left:123px;top:289.500px;font-size:13px;transform:scaleX(0.829);">USB-ITN-C</div>
<div class="t k" id="uwt" style="left:405.600px;top:290.500px;font-size:13px;transform:scaleX(0.885);">U-WAVE-T</div>
<div class="t g" id="w13" style="left:76px;top:406.500px;font-size:12px;transform:scaleX(0.856);">工件 1 至 3</div>
<div class="t g" id="w46" style="left:297.500px;top:406.300px;font-size:12px;transform:scaleX(0.859);">工件 4 至 6</div>
<div class="t g" id="d1a" style="left:166px;top:400.500px;font-size:11px;transform:scaleX(0.995);">数据</div>
<div class="t g" id="d1b" style="left:166px;top:413px;font-size:11px;transform:scaleX(0.995);">请求</div>
<div class="t g" id="d2a" style="left:209.200px;top:400.500px;font-size:11px;transform:scaleX(0.982);">数据</div>
<div class="t g" id="d2b" style="left:209.200px;top:413px;font-size:11px;transform:scaleX(0.982);">删除</div>
<div class="t g" id="lp1" style="left:391.800px;top:389.200px;font-size:11.500px;transform:scaleX(0.956);">长按数据</div>
<div class="t g" id="lp2" style="left:391.800px;top:401.400px;font-size:11.500px;transform:scaleX(0.956);">开关取消</div>
<div class="t g" id="fsw" style="left:52.600px;top:437.800px;font-size:12px;transform:scaleX(0.847);"><span class="k">USB-FSW</span> × 2个 + 脚踏开关 × 2个</div>
<!-- right panel text -->
<div class="t" id="c1" style="left:520px;top:157.200px;font-size:12.400px;color:#333;letter-spacing:.63px">因为一些单个操作者在下面的窗口进行同时测量，操作键和功能键不能在同</div>
<div class="t" id="c2" style="left:520px;top:173.900px;font-size:12.400px;color:#333;letter-spacing:.63px">一时间使用。<span style="display:inline-block;width:4.100px"></span>在这种情况下，有效的输入装置是脚踏开关<span style="display:inline-block;width:3.700px;letter-spacing:0">(</span>通过<span class="k" style="letter-spacing:-.93px;font-size:12.500px;margin-left:.5px">USB-FSW</span><span style="display:inline-block;width:4.600px;letter-spacing:0;margin-left:1px">)</span>。</div>
<div class="t cc hd" style="left:540.4px;width:51.6px;top:264.7px;font-size:13.4px;transform:scaleX(.85);">A</div>
<div class="t cc hd" style="left:592.0px;width:46.3px;top:264.7px;font-size:13.4px;transform:scaleX(.85);">B</div>
<div class="t cc hd" style="left:638.3px;width:46.9px;top:264.7px;font-size:13.4px;transform:scaleX(.85);">C</div>
<div class="t cc hd" style="left:685.2px;width:46.8px;top:264.7px;font-size:13.4px;transform:scaleX(.85);">D</div>
<div class="t cc hd" style="left:732.0px;width:46.6px;top:264.7px;font-size:13.4px;transform:scaleX(.85);">E</div>
<div class="t cc hd" style="left:778.6px;width:46.9px;top:264.7px;font-size:13.4px;transform:scaleX(.85);">F</div>
<div class="t cc hd" style="left:825.5px;width:46.5px;top:264.7px;font-size:13.4px;transform:scaleX(.85);">G</div>
<div class="t cc hd" style="left:514.0px;width:26.4px;top:290.1px;font-size:14.4px;">1</div>
<div class="t cc hd" style="left:514.0px;width:26.4px;top:321.3px;font-size:14.4px;">2</div>
<div class="t cc hd" style="left:514.0px;width:26.4px;top:352.5px;font-size:14.4px;">3</div>
<div class="t cc hd" style="left:514.0px;width:26.4px;top:383.5px;font-size:14.4px;">4</div>
<div class="t cc hd" style="left:540.4px;width:51.6px;top:290.9px;font-size:12.5px;">设置</div>
<div class="t cc hd" style="left:540.4px;width:51.6px;top:322.1px;font-size:12.5px;">尺寸<span style="font-size:13.400px">A</span></div>
<div class="t cc hd" style="left:540.4px;width:51.6px;top:353.2px;font-size:12.5px;">尺寸<span style="font-size:13.400px">B</span></div>
<div class="t cc hd" style="left:540.4px;width:51.6px;top:384.2px;font-size:12.5px;">尺寸<span style="font-size:13.400px">C</span></div>
<div class="t cc hd" style="left:592.0px;width:46.3px;top:290.1px;font-size:14.4px;">1</div>
<div class="t cc hd" style="left:638.3px;width:46.9px;top:290.1px;font-size:14.4px;">2</div>
<div class="t cc hd" style="left:685.2px;width:46.8px;top:290.1px;font-size:14.4px;">3</div>
<div class="t cc hd" style="left:732.0px;width:46.6px;top:290.1px;font-size:14.4px;">4</div>
<div class="t cc hd" style="left:778.6px;width:46.9px;top:290.1px;font-size:14.4px;">5</div>
<div class="t cc hd" style="left:825.5px;width:46.5px;top:290.1px;font-size:14.4px;">6</div>
<div class="t cc nm" style="left:592.0px;width:46.3px;top:321.5px;font-size:13.8px;">10.02</div>
<div class="t cc nm" style="left:592.0px;width:46.3px;top:352.7px;font-size:13.8px;">9.98</div>
<div class="t cc nm" style="left:592.0px;width:46.3px;top:383.7px;font-size:13.8px;">10.15</div>
<div class="t cc nm" style="left:638.3px;width:46.9px;top:321.5px;font-size:13.8px;">10.03</div>
<div class="t cc nm" style="left:638.3px;width:46.9px;top:352.7px;font-size:13.8px;">10.01</div>
<div class="t cc nm" style="left:638.3px;width:46.9px;top:383.7px;font-size:13.8px;">10.14</div>
<div class="t cc nm" style="left:688.2px;width:46.8px;top:321.5px;font-size:13.8px;">9.96</div>
<div class="t cc nm" style="left:685.2px;width:46.8px;top:352.7px;font-size:13.8px;">10.07</div>
<div class="t cc nm" style="left:732.0px;width:46.6px;top:321.5px;font-size:13.8px;">10.15</div>
<div class="t cc nm" style="left:732.0px;width:46.6px;top:352.7px;font-size:13.8px;">9.99</div>
<div class="t cc nm" style="left:732.0px;width:46.6px;top:383.7px;font-size:13.8px;">9.96</div>
<div class="t cc nm" style="left:778.6px;width:46.9px;top:321.5px;font-size:13.8px;">10.23</div>
<div class="t cc nm" style="left:778.6px;width:46.9px;top:352.7px;font-size:13.8px;">9.78</div>
<div class="t cc nm" style="left:778.6px;width:46.9px;top:383.7px;font-size:13.8px;">10.27</div>
<div class="t cc nm" style="left:825.5px;width:46.5px;top:321.5px;font-size:13.8px;">10.04</div>
<div class="t b" id="o1" style="left:647.200px;top:440.500px;font-size:12px;transform:scaleX(0.929);">操作1</div>
<div class="t b" id="o2" style="left:789.400px;top:440.300px;font-size:12px;transform:scaleX(0.919);">操作2</div>
<div class="t g" id="n1a" style="left:697.500px;top:422.500px;font-size:11px;letter-spacing:.4px;transform:scaleX(0.998);">下一个输入</div>
<div class="t g" id="n1b" style="left:697.500px;top:436.500px;font-size:11px;letter-spacing:.4px;transform:scaleX(0.998);">接收单元</div>
<div class="t g" id="n2a" style="left:837.500px;top:422.500px;font-size:11px;letter-spacing:.4px;transform:scaleX(0.996);">下一个输入</div>
<div class="t g" id="n2b" style="left:837.500px;top:436.500px;font-size:11px;letter-spacing:.4px;transform:scaleX(0.998);">接收单元</div>
</div>
</body>
</html>
